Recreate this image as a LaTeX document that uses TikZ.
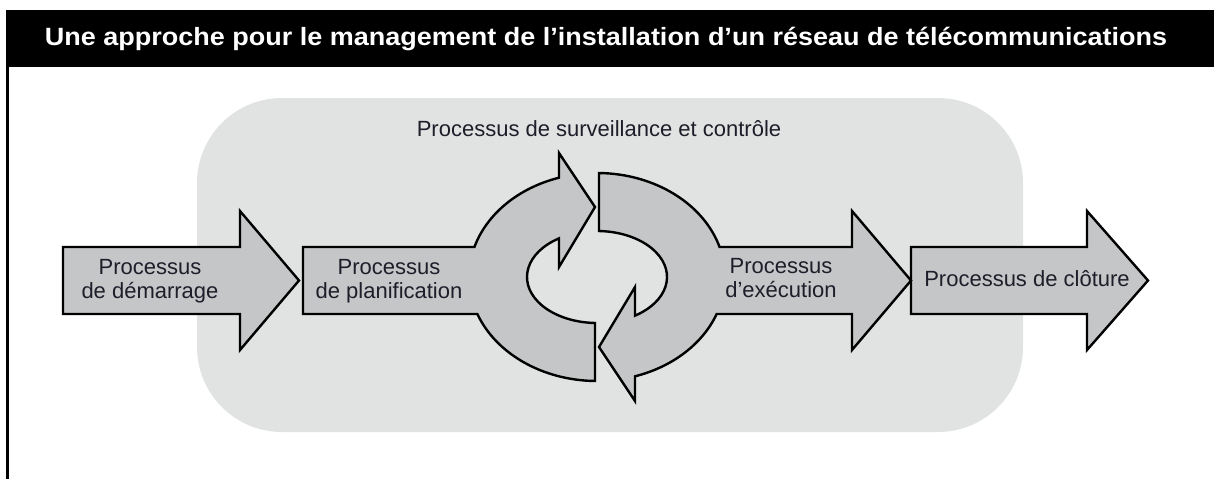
\documentclass[tikz,border=0pt]{standalone}
\usepackage{fontspec}
\usepackage{graphicx}
\setmainfont{Liberation Sans}

\definecolor{panelgray}{HTML}{E1E2E2}
\definecolor{arrowgray}{HTML}{C5C6C8}
\definecolor{labelink}{HTML}{1E1E2A}

\tikzset{
    procarrow/.style={fill=arrowgray, draw=black, line width=2.4pt, line join=miter},
    proclabel/.style={font=\fontsize{22}{24}\selectfont, text=labelink, align=center},
    titlelabel/.style={font=\bfseries\fontsize{25}{30}\selectfont, text=white}
}

\begin{document}
\begin{tikzpicture}[x=1pt, y=-1pt]
    \useasboundingbox (0,0) rectangle (1214,479);
    % frame and heading
    \fill[panelgray, rounded corners=85pt] (197,98) rectangle (1023,432);
    \fill[black] (6,10) rectangle (1214,67);
    \draw[line width=2.5pt] (7.5,10) -- (7.5,479);
    \node[titlelabel] (titre) at (606,39) {\scalebox{1.08}[1]{Une approche pour le management de l’installation d’un réseau de télécommunications}};
    \node[proclabel, anchor=base] (surveillance) at (599,136) {Processus de surveillance et contrôle};

    % straight arrows
    \draw[procarrow] (63,247) -- (240,247) -- (240,211) -- (299,280.5) -- (240,350) -- (240,314) -- (63,314) -- cycle;
    \draw[procarrow] (911,247) -- (1087,247) -- (1087,211) -- (1148,280.5) -- (1087,350) -- (1087,314) -- (911,314) -- cycle;

    % planification with the left curl
    \draw[procarrow] (303,247) -- (474.44,247)
        arc[start angle=196.767, end angle=252.73, x radius=128, y radius=104]
        -- (559,153) -- (595,207) -- (559,267) -- (559,238.37)
        arc[start angle=237.12, end angle=91.637, x radius=70, y radius=46]
        -- (595,380.99)
        arc[start angle=90.895, end angle=159.16, x radius=128, y radius=104]
        -- (303,314) -- cycle;

    % execution with the right curl
    \draw[procarrow] (599,173.01)
        arc[start angle=-89.105, end angle=-16.767, x radius=128, y radius=104]
        -- (852,247) -- (852,211) -- (911,280.5) -- (852,350) -- (852,314) -- (716.63,314)
        arc[start angle=20.84, end angle=72.73, x radius=128, y radius=104]
        -- (635,401) -- (599,347) -- (635,287) -- (635,315.63)
        arc[start angle=57.12, end angle=-88.363, x radius=70, y radius=46]
        -- cycle;

    % labels
    \node[proclabel] (demarrage) at (150,281) {Processus\\de démarrage};
    \node[proclabel] (planification) at (389,281) {Processus\\de planification};
    \node[proclabel] (execution) at (781,278) {Processus\\d’exécution};
    \node[proclabel] (cloture) at (1027,279) {Processus de clôture};
\end{tikzpicture}
\end{document}
